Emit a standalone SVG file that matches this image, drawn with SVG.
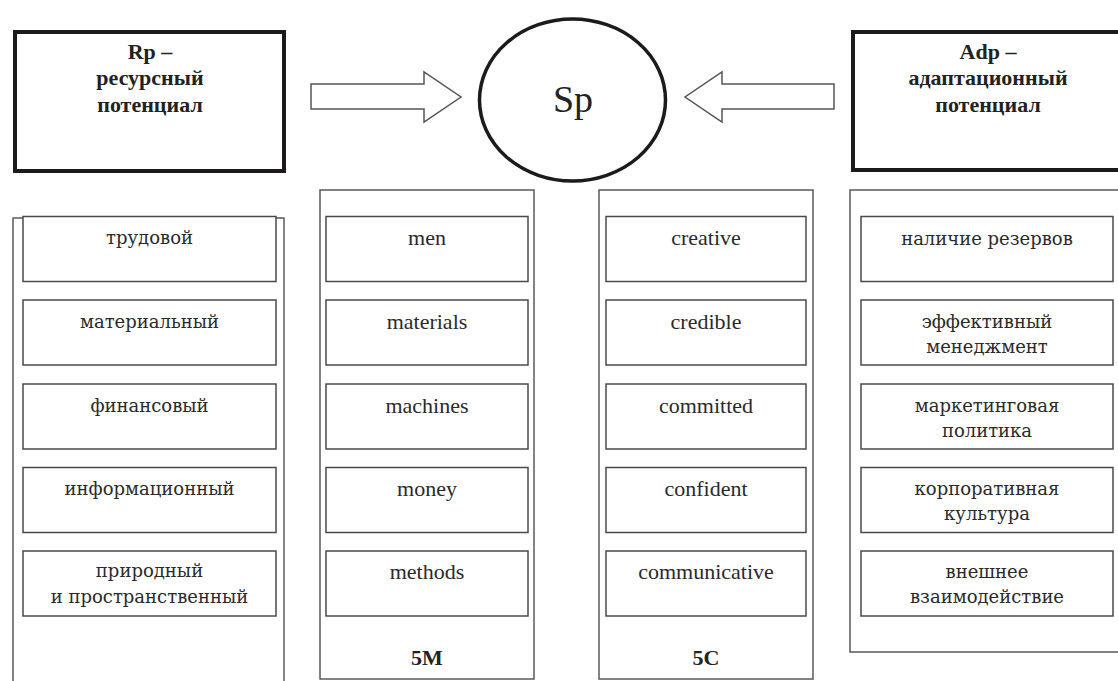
<svg xmlns="http://www.w3.org/2000/svg" width="1118" height="681" viewBox="0 0 1118 681">
<style>
.bg{fill:#ffffff}
.thick{fill:#ffffff;stroke:#1c1a1a;stroke-width:4}
.outer{fill:#ffffff;stroke:#5a5a5a;stroke-width:1.5}
.inner{fill:#ffffff;stroke:#4a4a4a;stroke-width:1.5}
.arrow{fill:#ffffff;stroke:#555555;stroke-width:1.5;stroke-linejoin:miter}
.head{font-family:"Liberation Serif","Times New Roman",serif;font-weight:bold;font-size:22px;fill:#222;text-anchor:middle}
.ru{font-family:"DejaVu Serif","Liberation Serif",serif;font-size:18px;fill:#2a2a2a;text-anchor:middle}
.en{font-family:"Liberation Serif","Times New Roman",serif;font-size:22px;fill:#2a2a2a;text-anchor:middle}
.lbl{font-family:"Liberation Serif","Times New Roman",serif;font-weight:bold;font-size:22px;fill:#222;text-anchor:middle}
.sp{font-family:"Liberation Serif","Times New Roman",serif;font-size:38px;fill:#222;text-anchor:middle}
</style>
<rect class="bg" x="0" y="0" width="1118" height="681"/>

<g id="rp">
<rect class="thick" x="15" y="32" width="269" height="139"/>
<text class="head" x="150" y="59">Rp –</text>
<text class="head" x="150" y="85">ресурсный</text>
<text class="head" x="150" y="112">потенциал</text>
</g>

<g id="sp">
<ellipse cx="572.5" cy="100" rx="93" ry="81" fill="#ffffff" stroke="#1c1a1a" stroke-width="3.5"/>
<text class="sp" x="573" y="112">Sp</text>
</g>

<g id="adp">
<rect class="thick" x="853" y="32" width="280" height="138"/>
<text class="head" x="988" y="59">Adp –</text>
<text class="head" x="988" y="85">адаптационный</text>
<text class="head" x="988" y="112">потенциал</text>
</g>

<g id="connectors">
<polygon class="arrow" points="311,84 424,84 424,72 461,97 424,122 424,109 311,109"/>
<polygon class="arrow" points="834,84 722,84 722,72 685,97 722,122 722,109 834,109"/>
</g>

<g id="col-rp">
<rect class="outer" x="13" y="218" width="271" height="480"/>
<rect class="inner" x="23" y="216.5" width="253" height="65"/>
<rect class="inner" x="23" y="300" width="253" height="65"/>
<rect class="inner" x="23" y="384" width="253" height="65"/>
<rect class="inner" x="23" y="467.5" width="253" height="65"/>
<rect class="inner" x="23" y="551" width="253" height="65"/>
<text class="ru" x="149.5" y="244">трудовой</text>
<text class="ru" x="149.5" y="328">материальный</text>
<text class="ru" x="149.5" y="412">финансовый</text>
<text class="ru" x="149.5" y="495">информационный</text>
<text class="ru" x="149.5" y="577">природный</text>
<text class="ru" x="149.5" y="603">и пространственный</text>
</g>

<g id="col-5m">
<rect class="outer" x="320" y="190" width="214" height="489"/>
<rect class="inner" x="326" y="216.5" width="202" height="65"/>
<rect class="inner" x="326" y="300" width="202" height="65"/>
<rect class="inner" x="326" y="384" width="202" height="65"/>
<rect class="inner" x="326" y="467.5" width="202" height="65"/>
<rect class="inner" x="326" y="551" width="202" height="65"/>
<text class="en" x="427" y="245">men</text>
<text class="en" x="427" y="329">materials</text>
<text class="en" x="427" y="413">machines</text>
<text class="en" x="427" y="496">money</text>
<text class="en" x="427" y="579">methods</text>
<text class="lbl" x="427" y="665">5M</text>
</g>

<g id="col-5c">
<rect class="outer" x="599" y="190" width="214" height="489"/>
<rect class="inner" x="606" y="216.5" width="200" height="65"/>
<rect class="inner" x="606" y="300" width="200" height="65"/>
<rect class="inner" x="606" y="384" width="200" height="65"/>
<rect class="inner" x="606" y="467.5" width="200" height="65"/>
<rect class="inner" x="606" y="551" width="200" height="65"/>
<text class="en" x="706" y="245">creative</text>
<text class="en" x="706" y="329">credible</text>
<text class="en" x="706" y="413">committed</text>
<text class="en" x="706" y="496">confident</text>
<text class="en" x="706" y="579">communicative</text>
<text class="lbl" x="706" y="665">5C</text>
</g>

<g id="col-adp">
<rect class="outer" x="850" y="190" width="300" height="462"/>
<rect class="inner" x="861" y="216.5" width="252" height="65"/>
<rect class="inner" x="861" y="300" width="252" height="65"/>
<rect class="inner" x="861" y="384" width="252" height="65"/>
<rect class="inner" x="861" y="467.5" width="252" height="65"/>
<rect class="inner" x="861" y="551" width="252" height="65"/>
<text class="ru" x="987" y="245">наличие резервов</text>
<text class="ru" x="987" y="328">эффективный</text>
<text class="ru" x="987" y="353">менеджмент</text>
<text class="ru" x="987" y="412">маркетинговая</text>
<text class="ru" x="987" y="437">политика</text>
<text class="ru" x="987" y="495">корпоративная</text>
<text class="ru" x="987" y="520">культура</text>
<text class="ru" x="987" y="578">внешнее</text>
<text class="ru" x="987" y="603">взаимодействие</text>
</g>
</svg>
